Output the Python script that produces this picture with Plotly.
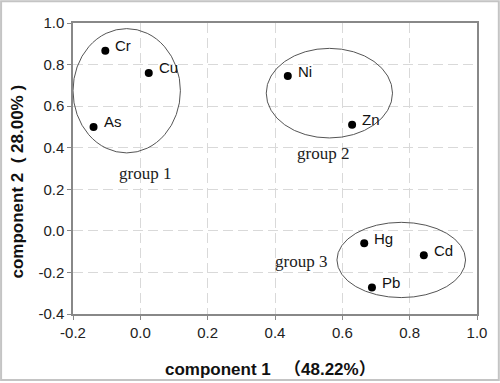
import plotly.graph_objects as go

# Data
elements = ["Cr", "Cu", "As", "Ni", "Zn", "Hg", "Cd", "Pb"]
comp1 = [-0.104, 0.025, -0.139, 0.438, 0.629, 0.665, 0.842, 0.688]
comp2 = [0.867, 0.76, 0.50, 0.745, 0.511, -0.06, -0.117, -0.273]

group_names = ["group 1", "group 2", "group 3"]
group_x0 = [-0.2, 0.374, 0.584]
group_x1 = [0.119, 0.749, 0.966]
group_y0 = [0.375, 0.447, -0.321]
group_y1 = [0.973, 0.878, 0.041]
group_label_x = [0.014, 0.544, 0.477]
group_label_y = [0.274, 0.37, -0.148]

x_ticks = [-0.2, 0.0, 0.2, 0.4, 0.6, 0.8, 1.0]
x_tick_labels = ["-0.2", "0.0", "0.2", "0.4", "0.6", "0.8", "1.0"]
y_ticks = [-0.4, -0.2, 0.0, 0.2, 0.4, 0.6, 0.8, 1.0]
y_tick_labels = ["-0.4", "-0.2", "0.0", "0.2", "0.4", "0.6", "0.8", "1.0"]

SANS = "Liberation Sans, Arial, Noto Sans CJK SC, sans-serif"
SERIF = "Liberation Serif, Times New Roman, serif"

fig = go.Figure()
fig.add_trace(go.Scatter(
    x=comp1, y=comp2, mode="markers",
    marker=dict(color="black", size=8),
    hoverinfo="skip", showlegend=False,
))

annotations = []
for name, xv, yv in zip(elements, comp1, comp2):
    annotations.append(dict(
        x=xv, y=yv, xref="x", yref="y", text=name, showarrow=False,
        xanchor="left", yanchor="middle", xshift=8, yshift=5,
        font=dict(family=SANS, size=15, color="#111"),
    ))
for name, xv, yv in zip(group_names, group_label_x, group_label_y):
    annotations.append(dict(
        x=xv, y=yv, xref="x", yref="y", text=name, showarrow=False,
        xanchor="center", yanchor="middle",
        font=dict(family=SERIF, size=17, color="#222"),
    ))
annotations.append(dict(
    x=0.49, y=-0.19, xref="paper", yref="paper",
    text="<b>component 1 　（48.22%）</b>", showarrow=False,
    xanchor="center", yanchor="middle",
    font=dict(family=SANS, size=17, color="#111"),
))
annotations.append(dict(
    x=-0.138, y=0.456, xref="paper", yref="paper",
    text="<b>component 2  ( 28.00% )</b>", showarrow=False, textangle=-90,
    xanchor="center", yanchor="middle",
    font=dict(family=SANS, size=17, color="#111"),
))

shapes = []
for x0, x1, y0, y1 in zip(group_x0, group_x1, group_y0, group_y1):
    shapes.append(dict(type="circle", xref="x", yref="y",
                       x0=x0, x1=x1, y0=y0, y1=y1,
                       line=dict(color="#555", width=1)))
# outer frame around whole chart
shapes.append(dict(type="rect", xref="paper", yref="paper",
                   x0=-0.178, x1=1.054, y0=-0.227, y1=1.075,
                   line=dict(color="#c4c4c4", width=2), layer="below"))

axis_common = dict(
    showline=True, linecolor="#888", linewidth=1.5, mirror=True,
    ticks="outside", ticklen=4, tickcolor="#888",
    showgrid=True, gridcolor="#d9d9d9", griddash="10px,5px", gridwidth=1,
    zeroline=False, tickfont=dict(family=SANS, size=15, color="#222"),
)
fig.update_layout(
    width=500, height=383,
    margin=dict(l=73, r=23, t=23, b=69),
    paper_bgcolor="white", plot_bgcolor="white",
    xaxis=dict(range=[-0.2, 1.0], tickvals=x_ticks, ticktext=x_tick_labels, **axis_common),
    yaxis=dict(range=[-0.4, 1.0], tickvals=y_ticks, ticktext=y_tick_labels, **axis_common),
    annotations=annotations, shapes=shapes,
)
fig.write_html("out.html",
               config={"displayModeBar": False},
               post_script="document.body.style.margin='0';document.body.style.overflow='hidden';")
